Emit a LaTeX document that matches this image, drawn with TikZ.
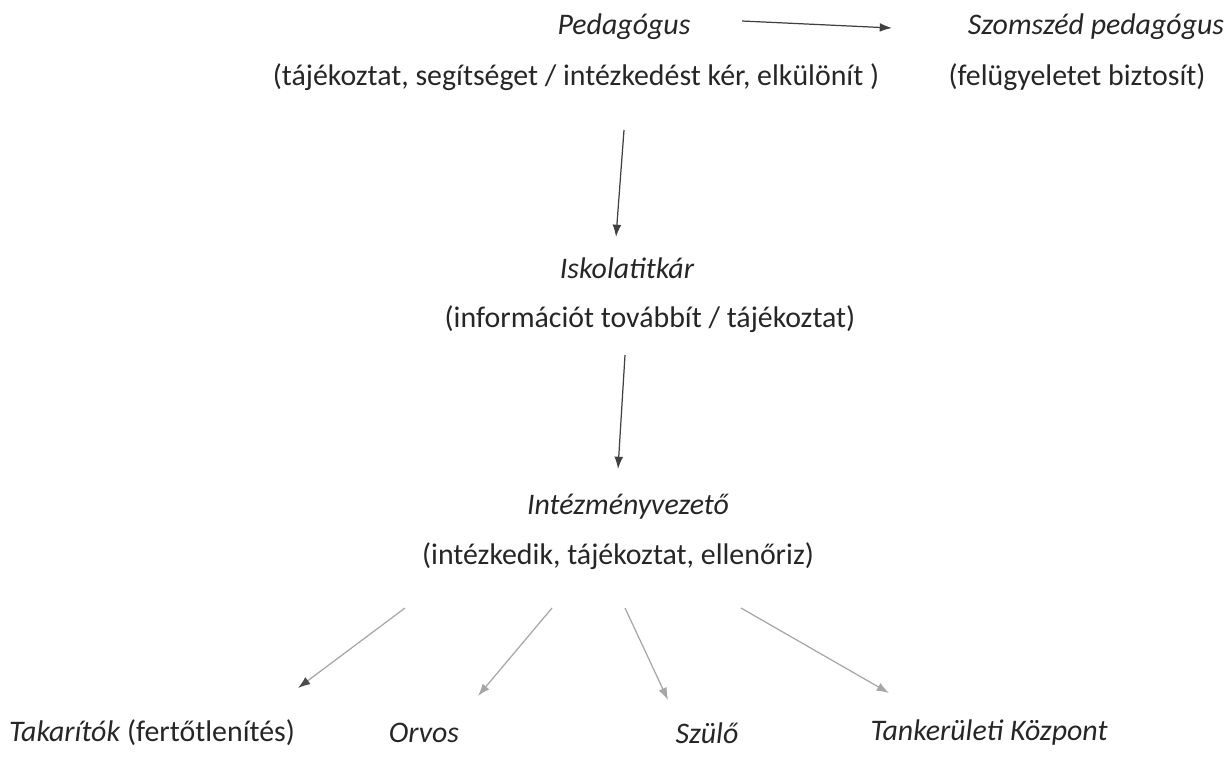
\documentclass[tikz,border=0pt]{standalone}
\usepackage{fontspec}
\setmainfont{Carlito}
\usetikzlibrary{positioning,arrows.meta}

\begin{document}
\begin{tikzpicture}[x=0.02cm,y=-0.02cm]
		\tikzstyle{title}=[font=\fontsize{17}{20}\selectfont\itshape, text=black!85, inner sep=0pt]
		\tikzstyle{task}=[font=\fontsize{17}{20}\selectfont, text=black!85, inner sep=0pt]
		\tikzstyle{connect}=[-{Latex[length=7pt,width=5pt]}, line width=0.7pt, draw=black!75]
		\tikzstyle{branch}=[-{Latex[length=7pt,width=5pt]}, line width=0.7pt, draw=black!35]
		\useasboundingbox (0,0) rectangle (1229,758);
		
		\node[title] (ped)   at (624,27)  {Pedagógus};
		\node[title] (szom)  at (1096,27) {Szomszéd pedagógus};
		\node[task]  (pedt)  at (576,77)  {(tájékoztat, segítséget / intézkedést kér, elkülönít )};
		\node[task]  (szomt) at (1077,77) {(felügyeletet biztosít)};
		
		\node[title] (isk)   at (627,268) {Iskolatitkár};
		\node[task]  (iskt)  at (650,319) {(információt továbbít / tájékoztat)};
		
		\node[title] (vez)   at (628,507) {Intézményvezető};
		\node[task]  (vezt)  at (618,556) {(intézkedik, tájékoztat, ellenőriz)};
		
		\node[task]  (tak)   at (152,733) {\textit{Takarítók} (fertőtlenítés)};
		\node[title] (orv)   at (424,733) {Orvos};
		\node[title] (szul)  at (707,733) {Szülő};
		\node[title] (tank)  at (989,733) {Tankerületi Központ};
		
		% arrow ends
		\coordinate (p1) at (742,21);  \coordinate (p2) at (892,28);
		\coordinate (i1) at (624,130); \coordinate (i2) at (616,237);
		\coordinate (v1) at (625,355); \coordinate (v2) at (618,469);
		\coordinate (a1) at (405,608); \coordinate (a2) at (298,688);
		\coordinate (b1) at (552,608); \coordinate (b2) at (478,696);
		\coordinate (c1) at (625,608); \coordinate (c2) at (668,700);
		\coordinate (d1) at (741,608); \coordinate (d2) at (889,693);
		
		\path 
		(p1) edge [connect] (p2)
		(i1) edge [connect] (i2)
		(v1) edge [connect] (v2)
		
		(a1) edge [branch, -{Latex[length=7pt,width=5pt,black!70]}] (a2)
		(b1) edge [branch] (b2)
		(c1) edge [branch] (c2)
		(d1) edge [branch] (d2)
		;
		
\end{tikzpicture}
\end{document}
